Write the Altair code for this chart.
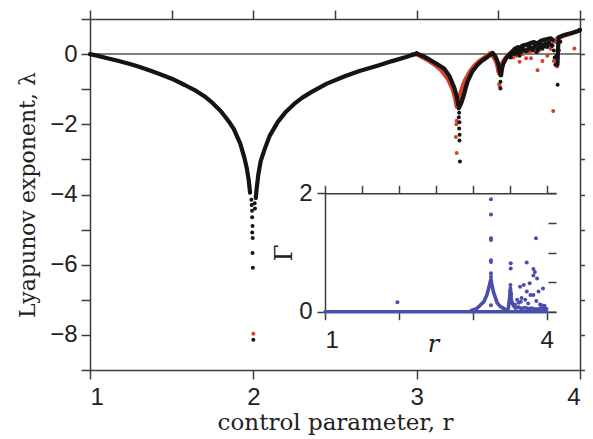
import altair as alt
import pandas as pd

# ---------------- main panel : black series (dense parts, read as polylines) ----------------
blk_a_r = [1.00, 1.05, 1.10, 1.17, 1.25, 1.30, 1.38, 1.45, 1.50, 1.58, 1.65, 1.70, 1.75, 1.80, 1.85, 1.88, 1.92, 1.945, 1.96, 1.972, 1.98]
blk_a_l = [0.00, -0.05, -0.11, -0.19, -0.29, -0.36, -0.49, -0.61, -0.70, -0.88, -1.05, -1.20, -1.39, -1.62, -1.92, -2.13, -2.55, -2.95, -3.25, -3.60, -3.95]
blk_b_r = [2.015, 2.02, 2.03, 2.045, 2.07, 2.10, 2.15, 2.20, 2.25, 2.30, 2.36, 2.45, 2.56, 2.65, 2.77, 2.85, 2.93, 3.00]
blk_b_l = [-4.10, -3.85, -3.45, -3.05, -2.70, -2.33, -1.93, -1.64, -1.42, -1.24, -1.07, -0.84, -0.63, -0.48, -0.32, -0.20, -0.09, 0.02]
blk_c_r = [3.00, 3.04, 3.08, 3.12, 3.168, 3.20, 3.23, 3.245, 3.255]
blk_c_l = [0.02, -0.06, -0.16, -0.27, -0.41, -0.62, -0.95, -1.20, -1.45]
blk_d_r = [3.262, 3.272, 3.28, 3.29, 3.30, 3.311, 3.34, 3.372, 3.40, 3.434, 3.465]
blk_d_l = [-1.50, -1.40, -1.30, -1.15, -0.97, -0.79, -0.50, -0.31, -0.19, -0.08, 0.03]
blk_e_r = [3.465, 3.48, 3.49, 3.50, 3.508, 3.513]
blk_e_l = [0.03, -0.05, -0.15, -0.28, -0.45, -0.60]
blk_f_r = [3.517, 3.522, 3.53, 3.545, 3.56, 3.57]
blk_f_l = [-0.60, -0.42, -0.28, -0.14, -0.05, 0.00]
blk_g_r = [3.575, 3.59, 3.60, 3.62, 3.63, 3.64, 3.66, 3.68, 3.70, 3.72, 3.74, 3.76, 3.78, 3.80, 3.82, 3.835]
blk_g_l = [0.02, 0.10, 0.15, 0.20, 0.12, 0.22, 0.26, 0.28, 0.32, 0.34, 0.30, 0.38, 0.41, 0.43, 0.45, 0.40]
blk_g2_r = [3.585, 3.60, 3.615, 3.63, 3.65, 3.67, 3.69, 3.71, 3.73, 3.75, 3.77, 3.79, 3.81, 3.83]
blk_g2_l = [0.00, 0.06, 0.02, 0.10, 0.14, 0.08, 0.18, 0.14, 0.22, 0.17, 0.26, 0.22, 0.30, 0.24]
blk_h_r = [3.862, 3.866, 3.87, 3.89, 3.91, 3.93, 3.95, 3.97, 3.99, 4.00]
blk_h_l = [-0.30, 0.20, 0.48, 0.52, 0.55, 0.58, 0.60, 0.63, 0.66, 0.69]

# black isolated points
blk_pt_r = [1.988, 1.99, 1.992, 1.993, 1.995, 1.993, 1.996, 1.995, 1.997, 2.00, 2.008, 2.01,
            3.258, 3.26, 3.258, 3.262, 3.26, 3.263, 3.262, 3.265, 3.513, 3.513,
            3.575, 3.60, 3.62, 3.63, 3.64, 3.65, 3.67, 3.69, 3.70, 3.71, 3.72, 3.735, 3.74, 3.76,
            3.77, 3.78, 3.79, 3.80, 3.81, 3.83, 3.84, 3.845, 3.85, 3.855, 3.863, 3.87, 3.88]
blk_pt_l = [-4.15, -4.30, -4.46, -4.65, -4.90, -5.08, -5.24, -5.67, -6.09, -8.14, -4.25, -4.40,
            -1.55, -1.67, -1.80, -1.94, -2.12, -2.30, -2.46, -3.06, -0.79, -0.98,
            -0.10, 0.00, 0.10, -0.05, 0.05, 0.15, 0.10, 0.22, 0.18, 0.10, 0.22, 0.05, 0.12, 0.25,
            0.15, 0.22, 0.30, 0.20, 0.33, 0.25, 0.10, -0.10, -0.30, -0.05, -0.87, 0.10, 0.35]

# ---------------- main panel : red series (visible where it departs from the black one) ----------------
red_c_r = [2.97, 3.00, 3.03, 3.07, 3.11, 3.15, 3.19, 3.22, 3.235, 3.245]
red_c_l = [-0.01, 0.00, -0.08, -0.18, -0.30, -0.46, -0.70, -1.00, -1.25, -1.50]
red_d_r = [3.25, 3.26, 3.275, 3.295, 3.325, 3.355, 3.385, 3.42, 3.45]
red_d_l = [-1.50, -1.25, -1.00, -0.75, -0.50, -0.32, -0.19, -0.08, 0.02]
red_e_r = [3.45, 3.47, 3.485, 3.495, 3.50]
red_e_l = [0.02, -0.08, -0.20, -0.35, -0.50]
red_f_r = [3.505, 3.515, 3.53, 3.55, 3.565]
red_f_l = [-0.55, -0.35, -0.20, -0.08, 0.00]
red_g_r = [3.57, 3.59, 3.61, 3.63, 3.66, 3.70, 3.74, 3.78, 3.82, 3.85]
red_g_l = [0.00, 0.08, 0.15, 0.18, 0.24, 0.30, 0.32, 0.38, 0.42, 0.35]
red_h_r = [3.86, 3.90, 3.94, 3.97, 4.00]
red_h_l = [0.45, 0.52, 0.58, 0.63, 0.68]

red_pt_r = [2.00, 3.245, 3.243, 3.24, 3.245, 3.505, 3.51, 3.59, 3.61, 3.63, 3.65, 3.67, 3.69,
            3.70, 3.74, 3.73, 3.75, 3.77, 3.80, 3.82, 3.84, 3.836, 3.85, 3.86, 3.965, 3.68, 3.72, 3.78]
red_pt_l = [-7.97, -1.90, -2.00, -2.36, -2.82, -0.86, -0.93, -0.10, -0.05, -0.22, 0.00, -0.12, 0.05,
            -0.12, -0.46, 0.07, 0.10, -0.20, -0.05, 0.15, -0.20, -1.62, -0.30, -0.35, 0.16, 0.12, 0.18, 0.26]

# ---------------- inset : Gamma (blue) ----------------
inset_base_r = [1.00, 4.00]
inset_base_g = [0.00, 0.00]
inset_bump_r = [2.98, 3.05, 3.10, 3.15, 3.19, 3.22, 3.235, 3.246, 3.26, 3.28, 3.30, 3.33, 3.37, 3.44]
inset_bump_g = [0.02, 0.05, 0.11, 0.17, 0.28, 0.42, 0.50, 0.55, 0.45, 0.33, 0.26, 0.15, 0.09, 0.04]
inset_band_r = [3.48, 3.50, 3.51, 3.52, 3.55, 3.58, 3.62, 3.66, 3.70, 3.75, 3.80, 3.85, 3.90, 3.95, 4.00]
inset_band_g = [0.05, 0.25, 0.40, 0.20, 0.10, 0.06, 0.08, 0.05, 0.07, 0.05, 0.06, 0.04, 0.05, 0.06, 0.05]

inset_pt_r = [1.98, 3.246, 3.246, 3.246, 3.246, 3.246, 3.246, 3.246, 3.246, 3.246, 3.246, 3.246,
              3.513, 3.513, 3.51, 3.505, 3.515, 3.50, 3.52, 3.73, 3.855, 3.82, 3.84, 3.82, 3.87,
              3.77, 3.69, 3.64, 3.73, 3.60, 3.66, 3.65, 3.78, 3.95, 3.89, 3.82, 3.75, 3.93, 3.98,
              3.57, 3.62, 3.71, 3.86, 3.91, 3.97]
inset_pt_g = [0.16, 1.90, 1.64, 1.24, 1.21, 0.87, 0.84, 0.65, 0.59, 0.51, 0.45, 0.11,
              0.82, 0.73, 0.45, 0.34, 0.23, 0.15, 0.30, 0.83, 1.24, 0.72, 0.67, 0.61, 0.56,
              0.48, 0.45, 0.42, 0.34, 0.20, 0.23, 0.17, 0.28, 0.39, 0.34, 0.28, 0.14, 0.11, 0.06,
              0.12, 0.15, 0.20, 0.18, 0.12, 0.10]

# ---------------- tick values ----------------
main_x_ticks = [1, 1.5, 2, 2.5, 3, 3.5, 4]
main_y_ticks = [-9, -8, -7, -6, -5, -4, -3, -2, -1, 0, 1]
inset_x_ticks = [1, 1.5, 2, 2.5, 3, 3.5, 4]
inset_y_ticks = [0, 0.5, 1, 1.5, 2]


def line_frame(segments):
    rows = []
    for name, rs, ls in segments:
        for i, (r, v) in enumerate(zip(rs, ls)):
            rows.append({"seg": name, "o": i, "r": r, "v": v})
    return pd.DataFrame(rows)


blk_lines = line_frame([("a", blk_a_r, blk_a_l), ("b", blk_b_r, blk_b_l), ("c", blk_c_r, blk_c_l),
                        ("d", blk_d_r, blk_d_l), ("e", blk_e_r, blk_e_l), ("f", blk_f_r, blk_f_l),
                        ("g", blk_g_r, blk_g_l), ("g2", blk_g2_r, blk_g2_l), ("h", blk_h_r, blk_h_l)])
red_lines = line_frame([("c", red_c_r, red_c_l), ("d", red_d_r, red_d_l), ("e", red_e_r, red_e_l),
                        ("f", red_f_r, red_f_l), ("g", red_g_r, red_g_l), ("h", red_h_r, red_h_l)])
blk_pts = pd.DataFrame({"r": blk_pt_r, "v": blk_pt_l})
red_pts = pd.DataFrame({"r": red_pt_r, "v": red_pt_l})
zero_df = pd.DataFrame({"r": [1.0], "r2": [4.0], "v": [0.0]})
inset_lines = line_frame([("base", inset_base_r, inset_base_g), ("bump", inset_bump_r, inset_bump_g),
                          ("band", inset_band_r, inset_band_g)])
inset_pts = pd.DataFrame({"r": inset_pt_r, "v": inset_pt_g})

BLACK = "#141414"
RED = "#d8402e"
BLUE = "#4a4fab"
AX = "#3c3c3c"
LABEL_FONT = "Liberation Sans"
TITLE_FONT = "DejaVu Serif"
LFS = 24

PW, PH = 490, 351


def xs():
    return alt.Scale(domain=[1, 4], nice=False, zero=False)


def ys():
    return alt.Scale(domain=[-9, 1], nice=False, zero=False)


def xis():
    return alt.Scale(domain=[1, 4.126], range=[235, 466], nice=False, zero=False)


def yis():
    return alt.Scale(domain=[0, 2], range=[292.7, 174.3], nice=False, zero=False)


common_axis = dict(domainColor=AX, domainWidth=1.5, tickColor=AX, tickWidth=1.5, grid=False,
                   labelFont=LABEL_FONT, labelFontSize=LFS, labelColor="#222")

ax_bottom = alt.Axis(orient="bottom", values=main_x_ticks, format="d", tickSize=9, labelPadding=6,
                     labelExpr="datum.value % 1 === 0 ? datum.label : ''",
                     title="control parameter, r", titleFont=TITLE_FONT, titleFontSize=23,
                     titleFontWeight="normal", titleColor="#222", titlePadding=2, **common_axis)
ax_left = alt.Axis(orient="left", values=main_y_ticks, format="d", tickSize=9, labelPadding=4,
                   labelExpr="datum.value % 2 === 0 ? datum.label : ''",
                   title="Lyapunov exponent, λ", titleFont=TITLE_FONT, titleFontSize=22,
                   titleFontWeight="normal", titleColor="#222", titlePadding=10, **common_axis)
ax_top = alt.Axis(orient="top", values=main_x_ticks, tickSize=9, labels=False, title=None, **common_axis)
ax_right = alt.Axis(orient="right", values=main_y_ticks, tickSize=9, labels=False, title=None, **common_axis)

ai_bottom = alt.Axis(orient="bottom", offset=-58.3, values=inset_x_ticks, format="d", tickSize=8,
                     labelPadding=9, labelExpr="datum.value === 1 || datum.value === 4 ? datum.label : ''",
                     title="r", titleFont=TITLE_FONT, titleFontSize=24, titleFontStyle="italic",
                     titleFontWeight="normal", titleColor="#222", titleBaseline="middle",
                     titleX=343, titleY=33, **common_axis)
ai_left = alt.Axis(orient="left", offset=-235, values=inset_y_ticks, format="d", tickSize=8, labelPadding=5,
                   labelExpr="datum.value === 0 || datum.value === 2 ? datum.label : ''",
                   title="Γ", titleFont=TITLE_FONT, titleFontSize=24, titleFontWeight="normal",
                   titleColor="#222", titlePadding=2, **common_axis)
ai_top = alt.Axis(orient="top", offset=-174.3, values=inset_x_ticks, tickSize=8, labels=False, title=None,
                  **common_axis)
ai_right = alt.Axis(orient="right", offset=-32, values=inset_y_ticks, tickSize=8, labels=False, title=None,
                    domain=False, **{k: v for k, v in common_axis.items() if not k.startswith("domain")})

zero_layer = alt.Chart(zero_df).mark_rule(color="#555", strokeWidth=1.5).encode(
    x=alt.X("r:Q", scale=xs(), axis=ax_bottom), x2="r2:Q",
    y=alt.Y("v:Q", scale=ys(), axis=ax_left))

red_line_layer = alt.Chart(red_lines).mark_line(color=RED, strokeWidth=4.2, strokeCap="round",
                                                strokeJoin="round").encode(
    x=alt.X("r:Q", scale=xs(), axis=ax_top), y=alt.Y("v:Q", scale=ys(), axis=ax_right),
    detail="seg:N", order="o:Q")
red_pt_layer = alt.Chart(red_pts).mark_circle(color=RED, size=16, opacity=1).encode(
    x=alt.X("r:Q", scale=xs(), axis=None), y=alt.Y("v:Q", scale=ys(), axis=None))
blk_line_layer = alt.Chart(blk_lines).mark_line(color=BLACK, strokeWidth=4.2, strokeCap="round",
                                                strokeJoin="round").encode(
    x=alt.X("r:Q", scale=xs(), axis=None), y=alt.Y("v:Q", scale=ys(), axis=None),
    detail="seg:N", order="o:Q")
blk_pt_layer = alt.Chart(blk_pts).mark_circle(color=BLACK, size=16, opacity=1).encode(
    x=alt.X("r:Q", scale=xs(), axis=None), y=alt.Y("v:Q", scale=ys(), axis=None))

inset_line_layer = alt.Chart(inset_lines).mark_line(color=BLUE, strokeWidth=3.6, strokeCap="round",
                                                    strokeJoin="round").encode(
    x=alt.X("r:Q", scale=xis(), axis=ai_bottom), y=alt.Y("v:Q", scale=yis(), axis=ai_left),
    detail="seg:N", order="o:Q")
inset_pt_layer = alt.Chart(inset_pts).mark_circle(color=BLUE, size=16, opacity=1).encode(
    x=alt.X("r:Q", scale=xis(), axis=ai_top), y=alt.Y("v:Q", scale=yis(), axis=ai_right))

chart = alt.layer(
    zero_layer, red_line_layer, red_pt_layer, blk_line_layer, blk_pt_layer,
    inset_line_layer, inset_pt_layer
).resolve_scale(x="independent", y="independent").properties(
    width=PW, height=PH,
    padding={"left": 82, "top": 11, "right": 5, "bottom": 68},
    autosize=alt.AutoSizeParams(type="none"),
    background="white",
).configure_view(stroke=None)

chart.save("out.html", embed_options={"renderer": "svg", "actions": False})
